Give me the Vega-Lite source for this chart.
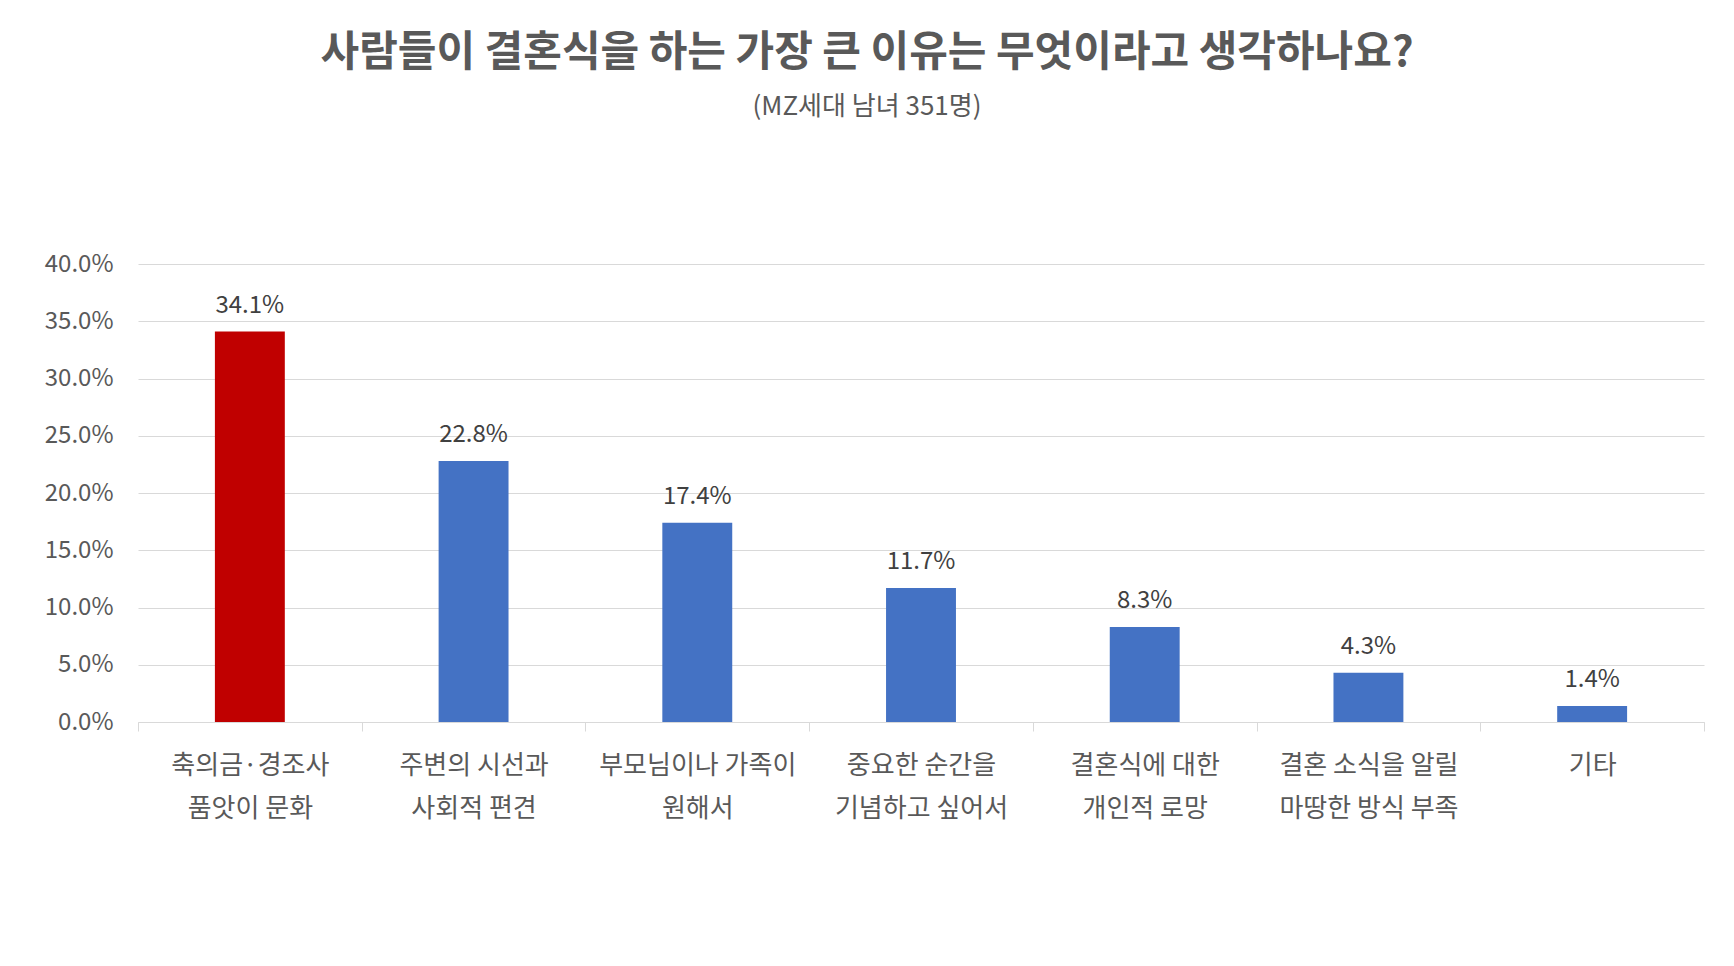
{
  "$schema": "https://vega.github.io/schema/vega-lite/v6.json",
  "autosize": {"type": "none"},
  "width": 1566,
  "height": 458,
  "padding": {"left": 138, "top": 264, "right": 30, "bottom": 244},
  "background": "white",
  "view": {"stroke": null},
  "title": {
    "text": "사람들이 결혼식을 하는 가장 큰 이유는 무엇이라고 생각하나요?",
    "subtitle": "(MZ세대 남녀 351명)",
    "anchor": "middle",
    "frame": "group",
    "dx": -54,
    "offset": 131,
    "font": "Noto Sans CJK KR",
    "fontSize": 42,
    "fontWeight": "bold",
    "color": "#595959",
    "subtitleFont": "Noto Sans CJK KR",
    "subtitleFontSize": 26,
    "subtitleColor": "#595959",
    "subtitlePadding": 19
  },
  "data": {
    "values": [
      {"reason": "축의금·경조사|품앗이 문화", "share": 0.341},
      {"reason": "주변의 시선과|사회적 편견", "share": 0.228},
      {"reason": "부모님이나 가족이|원해서", "share": 0.174},
      {"reason": "중요한 순간을|기념하고 싶어서", "share": 0.117},
      {"reason": "결혼식에 대한|개인적 로망", "share": 0.083},
      {"reason": "결혼 소식을 알릴|마땅한 방식 부족", "share": 0.043},
      {"reason": "기타", "share": 0.014}
    ]
  },
  "encoding": {
    "x": {
      "field": "reason",
      "type": "nominal",
      "sort": null,
      "title": null,
      "scale": {"paddingInner": 0, "paddingOuter": 0},
      "axis": {
        "labelExpr": "split(datum.label, '|')",
        "labelAngle": 0,
        "labelFont": "Noto Sans CJK KR",
        "labelFontSize": 26,
        "labelColor": "#595959",
        "labelLineHeight": 43,
        "labelPadding": 21,
        "labelLimit": 300,
        "domainColor": "#D9D9D9",
        "tickColor": "#D9D9D9",
        "tickBand": "extent",
        "tickSize": 9,
        "grid": false
      }
    },
    "y": {
      "field": "share",
      "type": "quantitative",
      "title": null,
      "scale": {"domain": [0, 0.4]},
      "axis": {
        "values": [0, 0.05, 0.1, 0.15, 0.2, 0.25, 0.3, 0.35, 0.4],
        "format": ".1%",
        "labelFont": "Noto Sans CJK KR",
        "labelFontSize": 24,
        "labelColor": "#595959",
        "labelPadding": 25,
        "domain": false,
        "ticks": false,
        "gridColor": "#D9D9D9"
      }
    }
  },
  "layer": [
    {
      "mark": {"type": "bar", "width": {"band": 0.3125}},
      "encoding": {
        "color": {
          "condition": {"test": "datum.share > 0.3", "value": "#C00000"},
          "value": "#4472C4"
        }
      }
    },
    {
      "mark": {
        "type": "text",
        "baseline": "bottom",
        "dy": -14,
        "font": "Noto Sans CJK KR",
        "fontSize": 24,
        "color": "#404040"
      },
      "encoding": {
        "text": {"field": "share", "type": "quantitative", "format": ".1%"}
      }
    }
  ]
}
